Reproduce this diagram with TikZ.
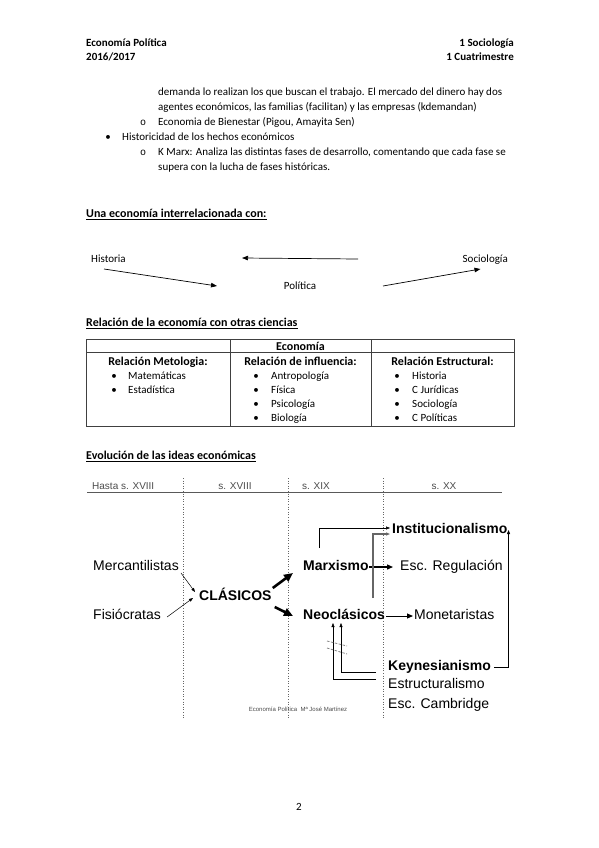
\documentclass[tikz,border=0pt]{standalone}
\usepackage{fontspec}
\setmainfont{Carlito}
\newfontfamily\arialfont{Liberation Sans}
\newfontfamily\courfont{Liberation Mono}
\usetikzlibrary{positioning, arrows.meta}
\tikzset{
txt/.style={anchor=base west, inner sep=0, font=\fontsize{11}{13}\selectfont},
rtxt/.style={txt, anchor=base east},
headtxt/.style={txt, font=\fontsize{11}{13}\selectfont\bfseries},
sect/.style={txt, font=\fontsize{12}{14}\selectfont\bfseries},
cellhead/.style={anchor=base, inner sep=0, font=\fontsize{12}{14}\selectfont\bfseries},
dot/.style={anchor=base, inner sep=0, font=\fontsize{11}{13}\selectfont},
circ/.style={anchor=base, inner sep=0, font=\fontsize{10}{12}\courfont},
era/.style={anchor=base, inner sep=0, font=\fontsize{10}{12}\arialfont, text=black!70},
school/.style={anchor=base west, inner sep=0, font=\fontsize{14}{16}\arialfont},
bschool/.style={school, font=\fontsize{14}{16}\arialfont\bfseries},
link/.style={-{Triangle[length=6pt,width=4.5pt]}, line width=0.7pt},
fine/.style={-{Triangle[length=4pt,width=3pt]}, line width=0.5pt},
mid/.style={-{Triangle[length=6pt,width=5pt]}, line width=1.3pt},
heavy/.style={-{Triangle[length=9pt,width=8pt]}, line width=2.6pt},
grid/.style={black!75, line width=0.8pt},
epoch/.style={black!60, dotted, line width=0.6pt},
hatch/.style={black!55, dash pattern=on 2.5pt off 1.5pt, line width=0.7pt}
}
\begin{document}
\begin{tikzpicture}[x=1pt, y=-1pt]
\useasboundingbox[fill=white] (0,0) rectangle (599,848);
% page header
\node [headtxt] (hd1) at (86,47) {Economía Política};
\node [headtxt] (hd2) at (86,61) {2016/2017};
\node [headtxt, anchor=base east] (hd3) at (514,47) {1 Sociología};
\node [headtxt, anchor=base east] (hd4) at (514,61) {1 Cuatrimestre};
% running text
\node [txt] (l1) at (158,96) {demanda lo realizan los que buscan el trabajo. El mercado del dinero hay dos};
\node [txt] (l2) at (158,111) {agentes económicos, las familias (facilitan) y las empresas (kdemandan)};
\node [circ] (o1) at (143,125) {o};
\node [txt] (l3) at (158,125) {Economia de Bienestar (Pigou, Amayita Sen)};
\node [dot] (b1) at (108,140) {\textbullet};
\node [txt] (l4) at (122,140) {Historicidad de los hechos económicos};
\node [circ] (o2) at (143,155) {o};
\node [txt] (l5) at (158,155) {K Marx: Analiza las distintas fases de desarrollo, comentando que cada fase se};
\node [txt] (l6) at (158,170) {supera con la lucha de fases históricas.};
% interrelacion
\node [sect] (s1) at (86,217) {Una economía interrelacionada con:};
\draw ([yshift=-2pt]s1.base west) -- ([yshift=-2pt]s1.base east);
\node [txt] (hist) at (91,262) {Historia};
\node [dot] (pol) at (300,289) {Política};
\node [rtxt] (soc) at (508,262) {Sociología};
\draw [link] ([xshift=13pt,yshift=-7pt]hist.base west) -- ([xshift=-83pt,yshift=3pt]pol.base);
\draw [link] ([xshift=58pt,yshift=30pt]pol.base) -- ([xshift=-58pt,yshift=31pt]pol.base);
\draw [link] ([xshift=83pt,yshift=3pt]pol.base) -- ([xshift=18pt,yshift=-7pt]soc.base west);
% tabla
\node [sect] (s2) at (86,326) {Relación de la economía con otras ciencias};
\draw ([yshift=-2pt]s2.base west) -- ([yshift=-2pt]s2.base east);
\draw [grid] (86,339) rectangle (514,426);
\draw [grid] (86,352) -- (514,352);
\draw [grid] (230,339) -- (230,426);
\draw [grid] (371,339) -- (371,426);
\node [cellhead] (eco) at (300.5,350.5) {Economía};
\node [cellhead] (c1) at (158,365.5) {Relación Metologia:};
\node [cellhead] (c2) at (300.5,365.5) {Relación de influencia:};
\node [cellhead] (c3) at (442.5,365.5) {Relación Estructural:};
\foreach \t [count=\i] in {Matemáticas, Estadística}
  {\node [dot] at (114,365.5+14*\i) {\textbullet};
   \node [txt] (m\i) at (128,365.5+14*\i) {\t};}
\foreach \t [count=\i] in {Antropología, Física, Psicología, Biología}
  {\node [dot] at (256,365.5+14*\i) {\textbullet};
   \node [txt] (f\i) at (271,365.5+14*\i) {\t};}
\foreach \t [count=\i] in {Historia, C Jurídicas, Sociología, C Políticas}
  {\node [dot] at (397,365.5+14*\i) {\textbullet};
   \node [txt] (e\i) at (412,365.5+14*\i) {\t};}
% evolucion
\node [sect] (s3) at (86,459) {Evolución de las ideas económicas};
\draw ([yshift=-2pt]s3.base west) -- ([yshift=-2pt]s3.base east);
\node [era, anchor=base west] (t0) at (92,489) {Hasta s. XVIII};
\node [era] (t1) at (235,489) {s. XVIII};
\node [era] (t2) at (316,489) {s. XIX};
\node [era] (t3) at (444,489) {s. XX};
\draw [black!65, line width=1.4pt] (87,492.5) -- (502,492.5);
\foreach \x in {183,288,383}
  \draw [epoch] (\x,478) -- (\x,718);
\node [school] (merc) at (93,570) {Mercantilistas};
\node [school] (fis) at (93,619) {Fisiócratas};
\node [bschool] (clas) at (199,600) {CLÁSICOS};
\node [bschool] (marx) at (303,570) {Marxismo};
\node [bschool] (neo) at (303,619) {Neoclásicos};
\node [school] (reg) at (400,570) {Esc. Regulación};
\node [school] (mon) at (414,619) {Monetaristas};
\node [bschool] (inst) at (392,533) {Institucionalismo};
\node [bschool] (keyn) at (388,670) {Keynesianismo};
\node [school] (estr) at (388,688.5) {Estructuralismo};
\node [school] (camb) at (388,708) {Esc. Cambridge};
\node [anchor=base, inner sep=0, font=\fontsize{6}{7}\arialfont, text=black!70] (firma) at (298,711) {Economía Política \ Mª José Martínez};
\draw [fine] ([xshift=2pt,yshift=-3pt]merc.base east) -- ([xshift=-4pt,yshift=8pt]clas.base west);
\draw [fine] ([xshift=6pt,yshift=2pt]fis.base east) -- ([xshift=-6pt,yshift=2pt]clas.base west);
\draw [heavy] ([xshift=1pt,yshift=12pt]clas.base east) -- ([xshift=-10pt,yshift=-3pt]marx.base west);
\draw [heavy] ([xshift=3pt,yshift=-7pt]clas.base east) -- ([xshift=-10pt,yshift=3pt]neo.base west);
\draw [mid] ([yshift=3pt]marx.base east) -- ([xshift=-7pt,yshift=3pt]reg.base west);
\draw [mid, line width=1pt] ([xshift=1pt,yshift=3pt]neo.base east) -- ([xshift=-1pt,yshift=3pt]mon.base west);
\draw [fine] ([xshift=16pt,yshift=22pt]marx.base west) |- ([xshift=-2pt]inst.west);
\draw [fine, black!60, line width=1.3pt] ([xshift=-12pt,yshift=21pt]neo.base east) |- ([xshift=-2pt,yshift=-1pt]inst.base west);
\draw [fine] ([xshift=3pt,yshift=3pt]keyn.base east) -| ([xshift=1pt,yshift=3pt]inst.base east);
\draw [fine] ([xshift=-12pt,yshift=-2pt]keyn.base west) -| ([xshift=38pt,yshift=-4pt]neo.base west);
\draw [fine] ([xshift=-12pt,yshift=9.5pt]estr.base west) -| ([xshift=30pt,yshift=-4pt]neo.base west);
\draw [hatch] (327,641) -- (347,646);
\draw [hatch] (327,648) -- (347,654);
% pie
\node [dot] (pag) at (299,810) {2};
\end{tikzpicture}
\end{document}
